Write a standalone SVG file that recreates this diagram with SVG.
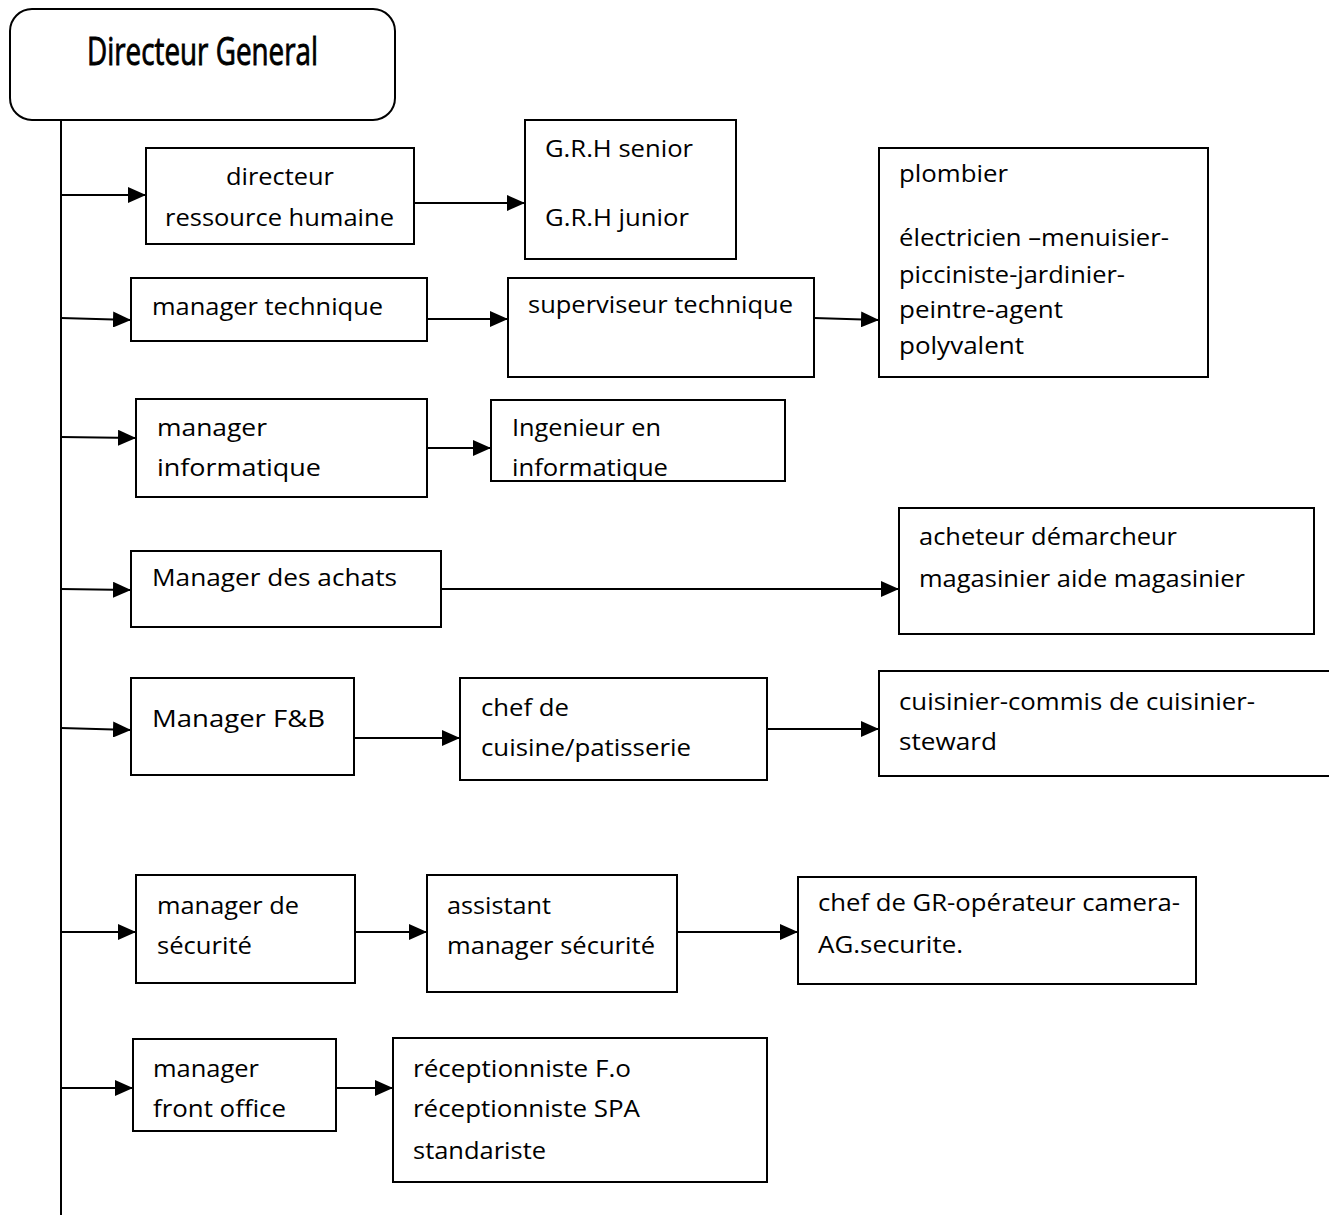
<svg xmlns="http://www.w3.org/2000/svg" width="1329" height="1215" viewBox="0 0 1329 1215">
<style>
.box{fill:#fff;stroke:#000;stroke-width:2}
.t{font-family:"Open Sans","Liberation Sans",sans-serif;font-size:24px;fill:#000}
.c{fill:none;stroke:#000;stroke-width:2}
</style>
<defs>
<marker id="ah" viewBox="0 0 18 16" refX="18" refY="8" markerWidth="18" markerHeight="16" markerUnits="userSpaceOnUse" orient="auto">
<path d="M0,0 L18,8 L0,16 Z" fill="#000"/>
</marker>
</defs>
<rect width="1329" height="1215" fill="#fff"/>
<g id="connectors">
<line class="c" x1="61" y1="120" x2="61" y2="1215"/>
<line class="c" x1="61" y1="195" x2="146" y2="195" marker-end="url(#ah)"/>
<line class="c" x1="414" y1="203" x2="525" y2="203" marker-end="url(#ah)"/>
<line class="c" x1="61" y1="318" x2="131" y2="320" marker-end="url(#ah)"/>
<line class="c" x1="427" y1="319" x2="508" y2="319" marker-end="url(#ah)"/>
<line class="c" x1="814" y1="318" x2="879" y2="320" marker-end="url(#ah)"/>
<line class="c" x1="61" y1="437" x2="136" y2="438" marker-end="url(#ah)"/>
<line class="c" x1="427" y1="448" x2="491" y2="448" marker-end="url(#ah)"/>
<line class="c" x1="61" y1="589" x2="131" y2="590" marker-end="url(#ah)"/>
<line class="c" x1="441" y1="589" x2="899" y2="589" marker-end="url(#ah)"/>
<line class="c" x1="61" y1="728" x2="131" y2="730" marker-end="url(#ah)"/>
<line class="c" x1="354" y1="738" x2="460" y2="738" marker-end="url(#ah)"/>
<line class="c" x1="767" y1="729" x2="879" y2="729" marker-end="url(#ah)"/>
<line class="c" x1="61" y1="932" x2="136" y2="932" marker-end="url(#ah)"/>
<line class="c" x1="355" y1="932" x2="427" y2="932" marker-end="url(#ah)"/>
<line class="c" x1="677" y1="932" x2="798" y2="932" marker-end="url(#ah)"/>
<line class="c" x1="61" y1="1088" x2="133" y2="1088" marker-end="url(#ah)"/>
<line class="c" x1="336" y1="1088" x2="393" y2="1088" marker-end="url(#ah)"/>
</g>
<g id="dg">
<rect class="box" x="10" y="9" width="385" height="111" rx="22"/>
<text class="t" x="87" y="65" style="font-size:38px;stroke:#000;stroke-width:0.9" textLength="231" lengthAdjust="spacingAndGlyphs">Directeur General</text>
</g>
<g id="drh">
<rect class="box" x="146" y="148" width="268" height="96"/>
<text class="t" x="226" y="185" textLength="108" lengthAdjust="spacingAndGlyphs">directeur</text>
<text class="t" x="165" y="226" textLength="229" lengthAdjust="spacingAndGlyphs">ressource humaine</text>
</g>
<g id="grh">
<rect class="box" x="525" y="120" width="211" height="139"/>
<text class="t" x="545" y="157" textLength="148" lengthAdjust="spacingAndGlyphs">G.R.H senior</text>
<text class="t" x="545" y="226" textLength="144" lengthAdjust="spacingAndGlyphs">G.R.H junior</text>
</g>
<g id="mtech">
<rect class="box" x="131" y="278" width="296" height="63"/>
<text class="t" x="152" y="315" textLength="231" lengthAdjust="spacingAndGlyphs">manager technique</text>
</g>
<g id="stech">
<rect class="box" x="508" y="278" width="306" height="99"/>
<text class="t" x="528" y="313" textLength="265" lengthAdjust="spacingAndGlyphs">superviseur technique</text>
</g>
<g id="plombier">
<rect class="box" x="879" y="148" width="329" height="229"/>
<text class="t" x="899" y="182" textLength="109" lengthAdjust="spacingAndGlyphs">plombier</text>
<text class="t" x="899" y="246" textLength="270" lengthAdjust="spacingAndGlyphs">électricien –menuisier-</text>
<text class="t" x="899" y="283" textLength="226" lengthAdjust="spacingAndGlyphs">picciniste-jardinier-</text>
<text class="t" x="899" y="318" textLength="164" lengthAdjust="spacingAndGlyphs">peintre-agent</text>
<text class="t" x="899" y="354" textLength="125" lengthAdjust="spacingAndGlyphs">polyvalent</text>
</g>
<g id="minfo">
<rect class="box" x="136" y="399" width="291" height="98"/>
<text class="t" x="157" y="436" textLength="110" lengthAdjust="spacingAndGlyphs">manager</text>
<text class="t" x="157" y="476" textLength="164" lengthAdjust="spacingAndGlyphs">informatique</text>
</g>
<g id="ing">
<rect class="box" x="491" y="400" width="294" height="81"/>
<text class="t" x="512" y="436" textLength="149" lengthAdjust="spacingAndGlyphs">Ingenieur en</text>
<text class="t" x="512" y="476" textLength="156" lengthAdjust="spacingAndGlyphs">informatique</text>
</g>
<g id="machats">
<rect class="box" x="131" y="551" width="310" height="76"/>
<text class="t" x="152" y="586" textLength="245" lengthAdjust="spacingAndGlyphs">Manager des achats</text>
</g>
<g id="acheteur">
<rect class="box" x="899" y="508" width="415" height="126"/>
<text class="t" x="919" y="545" textLength="258" lengthAdjust="spacingAndGlyphs">acheteur démarcheur</text>
<text class="t" x="919" y="587" textLength="326" lengthAdjust="spacingAndGlyphs">magasinier aide magasinier</text>
</g>
<g id="mfb">
<rect class="box" x="131" y="678" width="223" height="97"/>
<text class="t" x="152" y="727" textLength="173" lengthAdjust="spacingAndGlyphs">Manager  F&amp;B</text>
</g>
<g id="chef">
<rect class="box" x="460" y="678" width="307" height="102"/>
<text class="t" x="481" y="716" textLength="88" lengthAdjust="spacingAndGlyphs">chef de</text>
<text class="t" x="481" y="756" textLength="210" lengthAdjust="spacingAndGlyphs">cuisine/patisserie</text>
</g>
<g id="cuisinier">
<rect class="box" x="879" y="671" width="460" height="105"/>
<text class="t" x="899" y="710" textLength="356" lengthAdjust="spacingAndGlyphs">cuisinier-commis de cuisinier-</text>
<text class="t" x="899" y="750" textLength="98" lengthAdjust="spacingAndGlyphs">steward</text>
</g>
<g id="msec">
<rect class="box" x="136" y="875" width="219" height="108"/>
<text class="t" x="157" y="914" textLength="142" lengthAdjust="spacingAndGlyphs">manager de</text>
<text class="t" x="157" y="954" textLength="95" lengthAdjust="spacingAndGlyphs">sécurité</text>
</g>
<g id="asec">
<rect class="box" x="427" y="875" width="250" height="117"/>
<text class="t" x="447" y="914" textLength="104" lengthAdjust="spacingAndGlyphs">assistant</text>
<text class="t" x="447" y="954" textLength="208" lengthAdjust="spacingAndGlyphs">manager sécurité</text>
</g>
<g id="chefgr">
<rect class="box" x="798" y="877" width="398" height="107"/>
<text class="t" x="818" y="911" textLength="362" lengthAdjust="spacingAndGlyphs">chef de GR-opérateur camera-</text>
<text class="t" x="818" y="953" textLength="145" lengthAdjust="spacingAndGlyphs">AG.securite.</text>
</g>
<g id="mfo">
<rect class="box" x="133" y="1039" width="203" height="92"/>
<text class="t" x="153" y="1077" textLength="106" lengthAdjust="spacingAndGlyphs">manager</text>
<text class="t" x="153" y="1117" textLength="133" lengthAdjust="spacingAndGlyphs">front office</text>
</g>
<g id="recep">
<rect class="box" x="393" y="1038" width="374" height="144"/>
<text class="t" x="413" y="1077" textLength="218" lengthAdjust="spacingAndGlyphs">réceptionniste F.o</text>
<text class="t" x="413" y="1117" textLength="227" lengthAdjust="spacingAndGlyphs">réceptionniste SPA</text>
<text class="t" x="413" y="1159" textLength="133" lengthAdjust="spacingAndGlyphs">standariste</text>
</g>
</svg>
